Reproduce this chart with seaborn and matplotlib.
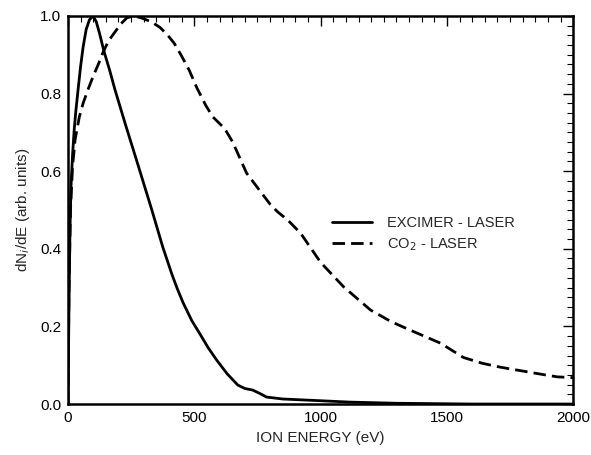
import numpy as np
import pandas as pd
import matplotlib
matplotlib.use("Agg")
import matplotlib.pyplot as plt
import seaborn as sns
from matplotlib.ticker import MultipleLocator

# Excimer-laser ion energy distribution
excimer_energy = [0, 4, 8, 12, 18, 25, 32, 40, 50, 60, 72, 85, 99, 112, 125, 142,
                  165, 186, 230, 273, 332, 375, 411, 431, 455, 490, 522, 555, 589,
                  630, 672, 700, 731, 760, 786, 850, 984, 1115, 1300, 1600, 2000]
excimer_value = [0.0, 0.25, 0.45, 0.56, 0.64, 0.71, 0.76, 0.81, 0.87, 0.92, 0.965,
                 0.99, 1.0, 0.985, 0.955, 0.91, 0.86, 0.81, 0.715, 0.625, 0.50, 0.405,
                 0.335, 0.30, 0.262, 0.215, 0.181, 0.145, 0.113, 0.078, 0.049,
                 0.040, 0.036, 0.027, 0.018, 0.013, 0.009, 0.005, 0.002, 0.0, 0.0]

# CO2-laser ion energy distribution
co2_energy = [0, 4, 10, 18, 28, 45, 60, 79, 100, 120, 138, 160, 182, 210, 233, 260,
              290, 330, 365, 395, 420, 447, 480, 510, 545, 573, 620, 652, 707, 759,
              800, 830, 870, 921, 1000, 1091, 1198, 1280, 1356, 1474, 1565, 1640,
              1711, 1800, 1880, 1937, 2000]
co2_value = [0.0, 0.30, 0.50, 0.61, 0.68, 0.74, 0.775, 0.81, 0.845, 0.875, 0.905,
             0.935, 0.955, 0.98, 0.995, 1.0, 0.995, 0.985, 0.97, 0.95, 0.93, 0.90,
             0.86, 0.815, 0.77, 0.74, 0.71, 0.675, 0.595, 0.55, 0.515, 0.495, 0.474,
             0.44, 0.365, 0.302, 0.242, 0.212, 0.19, 0.157, 0.12, 0.105, 0.095,
             0.085, 0.076, 0.07, 0.068]

series_labels = ["EXCIMER - LASER", "CO$_2$ - LASER"]

df = pd.concat([
    pd.DataFrame({"energy": excimer_energy, "value": excimer_value, "series": series_labels[0]}),
    pd.DataFrame({"energy": co2_energy, "value": co2_value, "series": series_labels[1]}),
], ignore_index=True)

sns.set_style("white")
plt.rcParams["font.family"] = ["Liberation Sans", "DejaVu Sans"]

fig = plt.figure(figsize=(5.91, 4.55), dpi=100)
ax = fig.add_axes([0.115, 0.112, 0.855, 0.853])

sns.lineplot(data=df, x="energy", y="value", style="series", hue="series",
             palette=["black", "black"], dashes=[(None, None), (4.5, 2.2)],
             linewidth=2.0, ax=ax, sort=False, estimator=None)

ax.set_xlim(0, 2000)
ax.set_ylim(0, 1.0)
ax.xaxis.set_minor_locator(MultipleLocator(50))
ax.yaxis.set_minor_locator(MultipleLocator(0.025))
ax.set_xticks([0, 500, 1000, 1500, 2000])
ax.set_xticklabels(["0", "500", "1000", "1500", "2000"])
ax.set_yticks([0.0, 0.2, 0.4, 0.6, 0.8, 1.0])
ax.set_yticklabels(["0.0", "0.2", "0.4", "0.6", "0.8", "1.0"])

ax.tick_params(which="both", direction="in", top=True, right=True,
               labelsize=11, colors="black", pad=5)
ax.tick_params(which="major", length=7, width=1.0)
ax.tick_params(which="minor", length=4, width=0.8)
for s in ax.spines.values():
    s.set_visible(True)
    s.set_color("black")
    s.set_linewidth(1.8)

ax.set_xlabel("ION ENERGY (eV)", fontsize=11, labelpad=4)
ax.set_ylabel("dN$_i$/dE (arb. units)", fontsize=11, labelpad=6)

leg = ax.legend(loc="upper left", bbox_to_anchor=(0.51, 0.50), frameon=False,
                fontsize=10.5, handlelength=2.8, handletextpad=1.0,
                labelspacing=0.45, borderaxespad=0)
for line in leg.get_lines():
    line.set_linewidth(2.0)

fig.savefig("out.png", dpi=100)
